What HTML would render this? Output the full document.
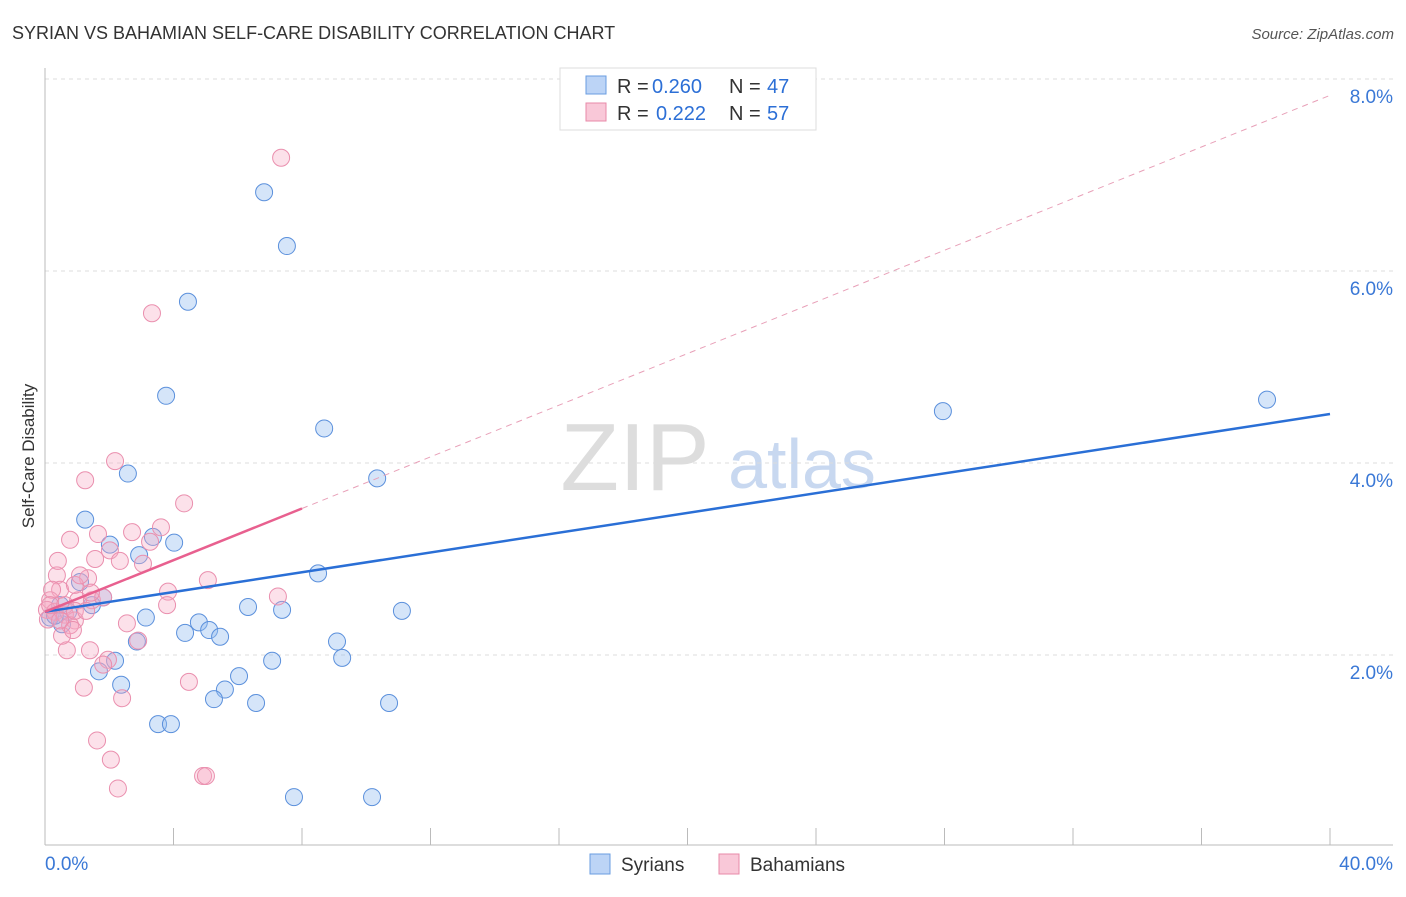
<!DOCTYPE html>
<html><head><meta charset="utf-8"><style>
body{margin:0;background:#fff;font-family:"Liberation Sans",sans-serif}
svg text{font-family:"Liberation Sans",sans-serif}
</style></head><body>
<svg id="chart" width="1406" height="892" xmlns="http://www.w3.org/2000/svg">
<text x="12" y="39" font-size="18" fill="#333">SYRIAN VS BAHAMIAN SELF-CARE DISABILITY CORRELATION CHART</text>
<text x="1394" y="39" font-size="15" fill="#555" font-style="italic" text-anchor="end">Source: ZipAtlas.com</text>
<text transform="translate(34,456) rotate(-90)" font-size="17" fill="#333" text-anchor="middle">Self-Care Disability</text>
<g><text x="635" y="490" font-size="96" fill="#ddd" text-anchor="middle" font-family="Liberation Serif">ZIP</text><text x="802" y="488" font-size="70" fill="#c8d8f0" text-anchor="middle">atlas</text></g>
<g id="grid"></g><g id="axes"></g><g id="pts"></g><g id="trend"></g>
<g>
<rect x="560" y="68" width="256" height="62" fill="#fff" stroke="#ddd"/>
<rect x="586" y="76" width="20" height="18" fill="#bcd4f6" stroke="#6a9de0"/>
<rect x="586" y="103" width="20" height="18" fill="#f9c8d8" stroke="#e88aa8"/>
<text x="617" y="93" font-size="20" fill="#333">R =</text>
<text x="652" y="93" font-size="20" fill="#2c6fd6">0.260</text>
<text x="729" y="93" font-size="20" fill="#333">N =</text>
<text x="767" y="93" font-size="20" fill="#2c6fd6">47</text>
<text x="617" y="120" font-size="20" fill="#333">R =</text>
<text x="656" y="120" font-size="20" fill="#2c6fd6">0.222</text>
<text x="729" y="120" font-size="20" fill="#333">N =</text>
<text x="767" y="120" font-size="20" fill="#2c6fd6">57</text>
</g>
<g>
<rect x="590" y="854" width="20" height="20" fill="#bcd4f6" stroke="#6a9de0"/>
<text x="621" y="871" font-size="19" fill="#333">Syrians</text>
<rect x="719" y="854" width="20" height="20" fill="#f9c8d8" stroke="#e88aa8"/>
<text x="750" y="871" font-size="19" fill="#333">Bahamians</text>
</g>
</svg>
<script>
const yTicks=[2,4,6,8];
const yTickLabels=["2.0%","4.0%","6.0%","8.0%"];
const xTickLabels=["0.0%","40.0%"];
const syrX=[6.82,7.53,4.45,3.77,8.69,2.58,10.34,27.95,38.04,1.25,4.02,3.36,2.93,2.02,1.09,8.50,1.81,1.46,0.47,0.16,0.53,3.14,6.32,7.38,11.11,4.79,4.36,5.11,5.45,2.86,9.09,9.25,7.07,2.18,1.68,6.04,5.60,5.26,6.57,10.71,2.37,3.52,3.92,7.75,10.18,0.31,0.72];
const syrY=[6.82,6.26,5.68,4.70,4.36,3.89,3.84,4.54,4.66,3.41,3.17,3.23,3.04,3.15,2.76,2.85,2.60,2.52,2.52,2.39,2.32,2.39,2.50,2.47,2.46,2.34,2.23,2.26,2.19,2.14,2.14,1.97,1.94,1.94,1.83,1.78,1.64,1.54,1.50,1.50,1.69,1.28,1.28,0.52,0.52,2.41,2.45];
const bahX=[7.35,3.33,2.18,1.25,4.33,0.78,3.61,2.71,1.65,2.02,1.56,2.33,3.05,1.34,0.37,0.47,0.16,0.06,0.31,0.62,0.93,0.78,1.03,1.46,1.81,3.83,5.07,3.80,7.25,2.55,2.90,1.40,0.68,0.53,1.96,1.81,1.21,2.40,4.48,1.62,2.05,2.27,4.92,5.01,0.22,0.09,0.62,0.40,0.93,1.43,0.93,1.28,0.16,0.47,0.87,1.09,3.27];
const bahY=[7.18,5.56,4.02,3.82,3.58,3.20,3.33,3.28,3.26,3.09,3.00,2.98,2.95,2.80,2.83,2.68,2.57,2.47,2.45,2.42,2.36,2.31,2.57,2.57,2.60,2.66,2.78,2.52,2.61,2.33,2.15,2.05,2.05,2.20,1.95,1.90,1.66,1.55,1.72,1.11,0.91,0.61,0.74,0.74,2.68,2.37,2.52,2.98,2.73,2.65,2.46,2.46,2.52,2.36,2.26,2.83,3.18];
const syrTrend=[2.45,4.51];
const bahTrend=[2.45,7.83];
const bahSolidEnd=8;
const NS="http://www.w3.org/2000/svg";
const X=v=>45+v/40*1285, Y=v=>847-v*96;
function mk(t,a,p){const e=document.createElementNS(NS,t);for(const k in a)e.setAttribute(k,a[k]);document.getElementById(p).appendChild(e);return e;}
yTicks.forEach((t,i)=>{
 const g=mk('line',{x1:45,x2:1393,y1:Y(t),y2:Y(t),stroke:'#ddd','stroke-dasharray':'4,4'},'grid');
 
 
 const l=mk('text',{x:1393,y:Y(t)+24,'font-size':19,fill:'#3a78d6','text-anchor':'end'},'axes');l.textContent=yTickLabels[i];
 
 
});
const ax=mk('line',{x1:45,x2:45,y1:68,y2:845,stroke:'#bbb'},'axes');


const bx=mk('line',{x1:45,x2:1393,y1:845,y2:845,stroke:'#bbb'},'axes');


for(let i=0;i<=10;i++){const t=mk('line',{x1:X(i*4),x2:X(i*4),y1:828,y2:845,stroke:'#bbb'},'axes');
 
 }
[[0,'start',45],[40,'end',1393]].forEach((d,i)=>{const l=mk('text',{x:d[2],y:870,'font-size':19,fill:'#3a78d6','text-anchor':d[1]},'axes');l.textContent=xTickLabels[i];
 
 });
syrX.forEach((x,i)=>{const c=mk('circle',{cx:X(x),cy:Y(syrY[i]),r:8.5,fill:'rgba(150,190,240,0.4)',stroke:'#5b90dc','stroke-width':1},'pts');
 
 });
bahX.forEach((x,i)=>{const c=mk('circle',{cx:X(x),cy:Y(bahY[i]),r:8.5,fill:'rgba(245,170,195,0.35)',stroke:'#ea8fae','stroke-width':1},'pts');
 
 });
const s=mk('line',{x1:X(0),y1:Y(syrTrend[0]),x2:X(40),y2:Y(syrTrend[1]),stroke:'#2a6fd6','stroke-width':2.5},'trend');


const bm=(bahTrend[1]-bahTrend[0])/40, be=bahTrend[0]+bm*bahSolidEnd;
const d=mk('line',{x1:X(bahSolidEnd),y1:Y(be),x2:X(40),y2:Y(bahTrend[1]),stroke:'#e8a0b8','stroke-width':1,'stroke-dasharray':'6,5'},'trend');


const b=mk('line',{x1:X(0),y1:Y(bahTrend[0]),x2:X(bahSolidEnd),y2:Y(be),stroke:'#e8608f','stroke-width':2.5},'trend');


</script>
</body></html>
